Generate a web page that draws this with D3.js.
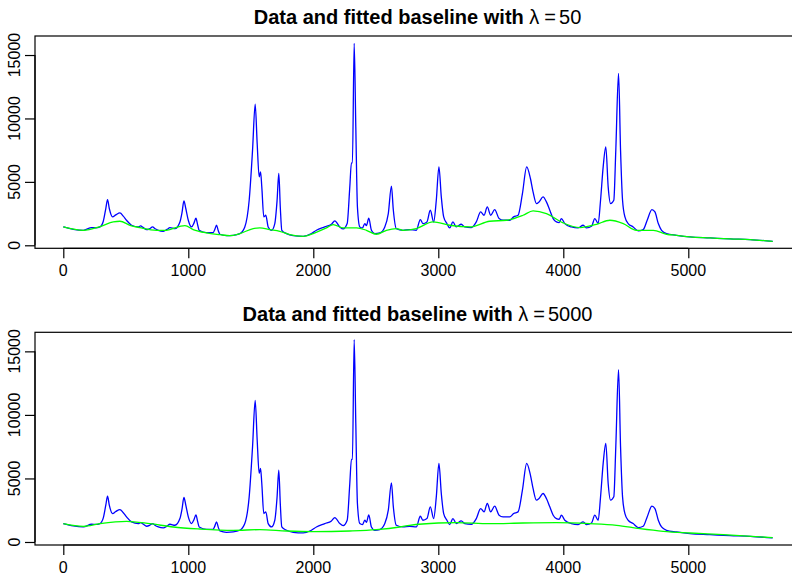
<!DOCTYPE html>
<html>
<head>
<meta charset="utf-8">
<script src="https://cdn.jsdelivr.net/npm/d3@7"></script>
<style>
  html, body { margin: 0; padding: 0; background: #fff; }
  svg { display: block; }
  text { font-family: "Liberation Sans", Arial, Helvetica, sans-serif; fill: #000; }
</style>
</head>
<body>
<svg id="chart" width="792" height="575"></svg>
<script>
// ---- Data ----
const specX = [0,80,160,227,260,293,320,340,354,368,394,420,453,480,506,546,600,618,640,666,690,714,735,760,800,830,853,893,933,950,965,980,1000,1026,1045,1061,1075,1087,1146,1199,1212,1226,1240,1253,1306,1359,1412,1452,1487,1514,1535,1551,1567,1578,1588,1604,1620,1639,1666,1692,1710,1724,1736,1748,1786,1839,1919,1985,2025,2092,2145,2172,2212,2239,2271,2292,2305,2313,2327,2340,2353,2372,2393,2412,2425,2444,2465,2492,2532,2572,2600,2625,2640,2664,2717,2770,2824,2856,2877,2909,2936,2963,2984,3005,3024,3043,3069,3091,3117,3144,3184,3211,3264,3304,3339,3366,3392,3419,3451,3486,3518,3571,3603,3638,3673,3707,3737,3758,3785,3806,3838,3865,3892,3919,3945,3967,3985,4012,4065,4119,4159,4186,4226,4252,4279,4298,4319,4340,4359,4378,4404,4420,4442,4458,4474,4493,4519,4559,4599,4639,4671,4709,4733,4760,4786,4826,4906,5013,5173,5334,5494,5675];
const specY = [1447,1260,1184,1395,1380,1450,1900,2900,3606,2900,2237,2400,2553,2300,1974,1580,1447,1526,1400,1237,1300,1447,1300,1184,1105,1250,1395,1316,1842,2600,3500,2900,1974,1447,1750,2132,1600,1184,1000,1000,1250,1580,1150,869,763,790,921,1447,3553,7500,11133,8027,5396,5790,4606,2237,2369,1447,1184,1711,3500,5659,3000,1184,921,763,711,921,1184,1447,1658,1921,1447,1290,1711,4606,6500,6500,15924,9344,3027,1447,1369,1711,1553,2132,1184,921,974,1447,2500,4659,2800,1316,1184,1237,1184,2027,1711,1842,2764,1842,3553,6185,3816,2237,1711,1369,1842,1447,1658,1447,1395,1842,2632,2369,3027,2369,2816,2106,1974,1974,2237,2369,4080,6185,5264,4211,3290,3422,3816,3422,2764,2106,1842,1790,2106,1711,1447,1369,1579,1369,1500,2106,1711,3553,6185,7764,4606,3290,3553,7500,13555,7500,3553,2237,1711,1447,1132,1237,1974,2816,2632,1711,1184,921,790,658,579,500,447,316];

const base50X = [0,160,300,400,453,533,613,746,826,933,973,1039,1146,1253,1333,1412,1519,1572,1652,1732,1812,1919,1999,2105,2159,2239,2346,2425,2505,2585,2665,2717,2824,2957,3091,3251,3411,3545,3678,3758,3865,3999,4132,4266,4373,4480,4586,4720,4826,4906,5013,5173,5334,5494,5675];
const base50Y = [1447,1180,1500,1842,1895,1579,1395,1184,1184,1500,1553,1237,974,842,763,921,1316,1369,1237,1105,842,711,921,1369,1632,1369,1369,1184,869,1184,1316,1184,1316,1842,1579,1447,1895,1974,2369,2711,2500,1763,1395,1658,1974,1711,1184,1184,869,790,658,579,500,447,316];

const base5000X = [0,160,293,506,693,880,1093,1359,1572,1786,1999,2292,2505,2692,2770,3000,3144,3411,3678,3945,4212,4426,4613,4800,5013,5280,5675];
const base5000Y = [1442,1232,1442,1626,1442,1180,1023,918,970,865,813,865,970,1180,1311,1495,1521,1442,1495,1521,1442,1311,1049,839,708,577,341];

const xTicks = [0,1000,2000,3000,4000,5000];
const yTicks = [0,5000,10000,15000];
const panels = [
  { lambda: "50",   baseX: base50X,   baseY: base50Y,   top: 36,    bottom: 248.3, titleY: 24,    labelY: 276.2 },
  { lambda: "5000", baseX: base5000X, baseY: base5000Y, top: 332.3, bottom: 545,   titleY: 320.5, labelY: 572.7 }
];

// ---- Drawing ----
const svg = d3.select("#chart");
const left = 35, right = 800;
const x = d3.scaleLinear().domain([-226.4, 5893.6]).range([left, right]);

panels.forEach(p => {
  const y = d3.scaleLinear().domain([-237, 16500]).range([p.bottom, p.top]);
  const g = svg.append("g");

  const line = d3.line().x(d => x(d[0])).y(d => y(d[1])).curve(d3.curveMonotoneX);

  g.append("path")
    .datum(d3.zip(specX, specY))
    .attr("d", line)
    .attr("fill", "none")
    .attr("stroke", "#0000ff")
    .attr("stroke-width", 1.3)
    .attr("stroke-linejoin", "round");

  g.append("path")
    .datum(d3.zip(p.baseX, p.baseY))
    .attr("d", line)
    .attr("fill", "none")
    .attr("stroke", "#00ff00")
    .attr("stroke-width", 1.3);

  // box
  g.append("rect")
    .attr("x", left).attr("y", p.top)
    .attr("width", right - left).attr("height", p.bottom - p.top)
    .attr("fill", "none").attr("stroke", "#000").attr("stroke-width", 1.2);

  // x axis
  const xa = g.append("g").attr("transform", `translate(0,${p.bottom})`)
    .call(d3.axisBottom(x).tickValues(xTicks).tickSize(10).tickFormat(() => ""));
  xa.select(".domain").attr("d", `M${x(0)},0H${x(5000)}`).attr("stroke-width", 1.2);
  xa.selectAll(".tick line").attr("stroke-width", 1.2);
  xTicks.forEach(t => {
    g.append("text").attr("x", x(t)).attr("y", p.labelY)
      .attr("text-anchor", "middle").attr("font-size", 16).text(d3.format("d")(t));
  });

  // y axis
  const ya = g.append("g").attr("transform", `translate(${left},0)`)
    .call(d3.axisLeft(y).tickValues(yTicks).tickSize(10).tickFormat(() => ""));
  ya.select(".domain").attr("d", `M0,${y(0)}V${y(15000)}`).attr("stroke-width", 1.2);
  ya.selectAll(".tick line").attr("stroke-width", 1.2);
  yTicks.forEach(t => {
    g.append("text")
      .attr("transform", `translate(20.3,${y(t)}) rotate(-90)`)
      .attr("text-anchor", "middle").attr("font-size", 16).text(d3.format("d")(t));
  });

  // title
  const title = g.append("text").attr("x", (left + right) / 2).attr("y", p.titleY)
    .attr("text-anchor", "middle").attr("font-size", 20);
  title.append("tspan").attr("font-weight", "bold").text("Data and fitted baseline with ");
  title.append("tspan").text("λ");
  title.append("tspan").attr("dx", 5).text("=");
  title.append("tspan").attr("dx", 3).text(p.lambda);
});
</script>
</body>
</html>
